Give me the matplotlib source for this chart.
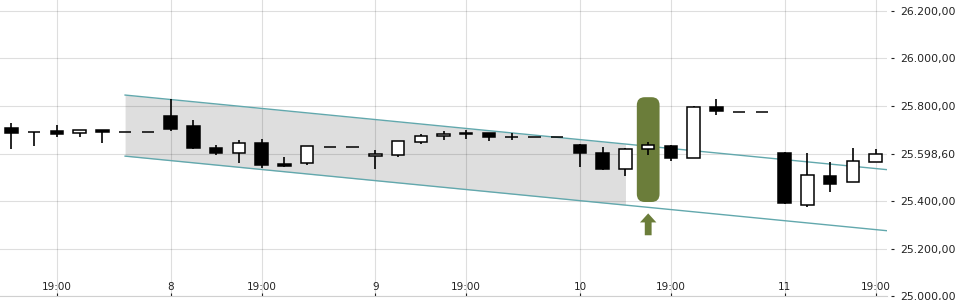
import numpy as np
import matplotlib
matplotlib.use("Agg")
import matplotlib.pyplot as plt
from matplotlib.patches import FancyBboxPatch

# candle data (one entry per bar)
opens = [25706, 25690, 25695, 25688, 25699, 25689, 25689, 25758, 25716, 25623,
         25601, 25644, 25556, 25559, 25626, 25626, 25588, 25592, 25647, 25672,
         25688, 25686, 25668, 25668, 25668, 25634, 25602, 25533, 25618, 25632,
         25582, 25796, 25773, 25773, 25603, 25385, 25504, 25481, 25566]
highs = [25727, 25692, 25720, 25699, 25699, 25689, 25689, 25829, 25741, 25636,
         25656, 25660, 25584, 25630, 25626, 25626, 25615, 25651, 25682, 25695,
         25699, 25686, 25685, 25668, 25668, 25640, 25629, 25623, 25648, 25636,
         25800, 25829, 25773, 25773, 25606, 25602, 25563, 25623, 25619]
lows = [25620, 25632, 25668, 25668, 25643, 25689, 25689, 25696, 25620, 25595,
        25561, 25538, 25542, 25550, 25626, 25626, 25534, 25585, 25639, 25657,
        25660, 25653, 25656, 25668, 25668, 25545, 25530, 25507, 25592, 25570,
        25582, 25763, 25773, 25773, 25387, 25375, 25439, 25481, 25566]
closes = [25688, 25690, 25683, 25699, 25692, 25689, 25689, 25703, 25624, 25601,
          25644, 25553, 25547, 25630, 25626, 25626, 25598, 25651, 25672, 25681,
          25681, 25668, 25668, 25668, 25668, 25603, 25533, 25618, 25634, 25582,
          25795, 25780, 25773, 25773, 25393, 25510, 25473, 25567, 25598.6]

# x axis labels at bar index
xtick_idx = [2, 7, 11, 16, 20, 25, 29, 34, 38]
xtick_labels = ["19:00", "8", "19:00", "9", "19:00", "10", "19:00", "11", "19:00"]

yticks = [25000, 25200, 25400, 25598.6, 25800, 26000, 26200]

# trend channel
chan_start = 5
chan_fill_end = 27
chan_upper0 = 25846
chan_lower0 = 25589
chan_slope = -9.37

# highlighted bar
hl_idx = 28
hl_low, hl_high = 25396, 25837
green = "#6b7d3a"

fig = plt.figure(figsize=(9.6, 3.0), dpi=100)
ax = fig.add_axes([0.0, 0.013, 887 / 960, 0.987])

n = len(opens)
x = np.arange(n)
o = np.array(opens, float)
c = np.array(closes, float)
xmin, xmax = -0.5, 38.5
ymin, ymax = 25000, 26246
ax.set_xlim(xmin, xmax)
ax.set_ylim(ymin, ymax)

# channel
cx = np.linspace(chan_start, xmax, 50)
up = chan_upper0 + chan_slope * (cx - chan_start)
lo = chan_lower0 + chan_slope * (cx - chan_start)
fx = np.linspace(chan_start, chan_fill_end, 50)
ax.fill_between(fx, chan_upper0 + chan_slope * (fx - chan_start),
                chan_lower0 + chan_slope * (fx - chan_start),
                color="#dedede", lw=0, zorder=0.2)
ax.plot(cx, up, color="#62a8ad", lw=1, zorder=1.2)
ax.plot(cx, lo, color="#62a8ad", lw=1, zorder=1.2)

# highlight box + arrow
px_x = 887 / (xmax - xmin)
px_y = 296 / (ymax - ymin)
box = FancyBboxPatch((hl_idx - 0.5, hl_low), 1.0, hl_high - hl_low,
                     boxstyle="round,pad=0,rounding_size=0.35",
                     mutation_aspect=px_x / px_y,
                     fc=green, ec="none", zorder=1.5)
ax.add_patch(box)
ax.arrow(hl_idx, hl_low - 140, 0, 92, width=0.3, head_width=0.72,
         head_length=38, length_includes_head=True, color=green, lw=0, zorder=1.5)

# candles
ax.vlines(x, lows, highs, color="black", lw=1.2, zorder=2)
fill = ["white" if cc > oo else "black" for oo, cc in zip(o, c)]
ax.bar(x, np.abs(c - o), bottom=np.minimum(o, c), width=0.55,
       color=fill, edgecolor="black", linewidth=1.1, zorder=3)

# grid / axes
ax.set_axisbelow(True)
ax.grid(True, color="black", alpha=0.13, lw=0.8)
ax.set_xticks(xtick_idx)
ax.set_xticklabels(xtick_labels, family=["Liberation Sans Narrow", "DejaVu Sans"])
ax.tick_params(axis="x", direction="in", length=2.5, pad=-10, labelsize=7.5,
               colors="#222222")
ax.yaxis.tick_right()
ax.set_yticks(yticks)
ax.set_yticklabels([f"{v:,.2f}".replace(",", "X").replace(".", ",").replace("X", ".")
                    for v in yticks])
ax.tick_params(axis="y", direction="out", length=2.5, pad=4, labelsize=7.8,
               colors="#222222")
ax.spines["right"].set_position(("outward", 3))
for s in ["top", "left", "right"]:
    ax.spines[s].set_visible(False)
ax.spines["bottom"].set_color("#d0d0d0")

fig.savefig("out.png", dpi=100)
